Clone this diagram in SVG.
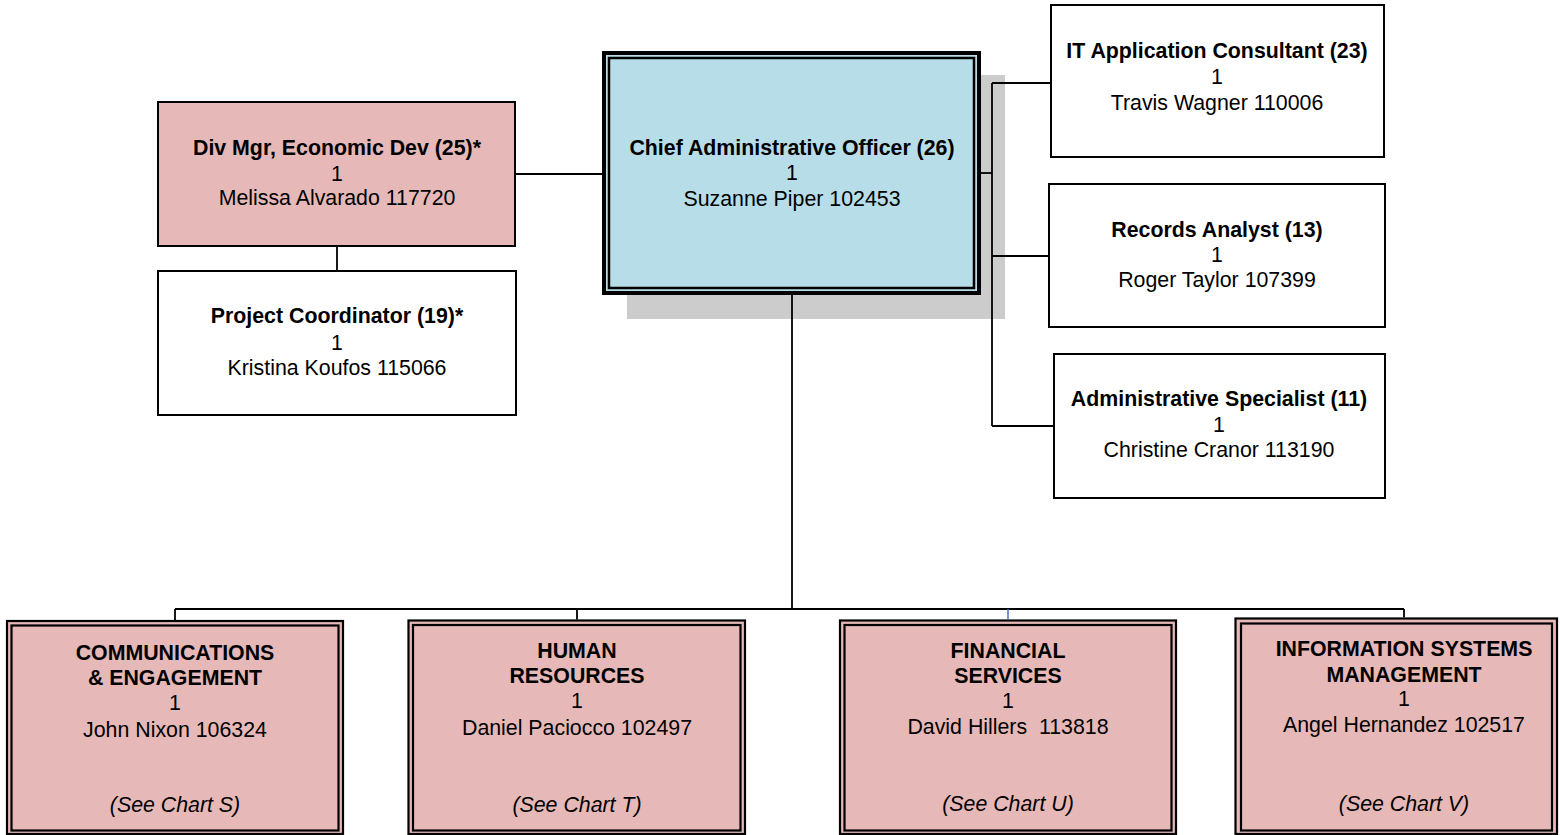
<svg xmlns="http://www.w3.org/2000/svg" width="1560" height="835" viewBox="0 0 1560 835">
<style>
text{font-family:"Liberation Sans",Arial,sans-serif;font-size:21.33px;fill:#000;text-anchor:middle}
.b{font-weight:bold}
.i{font-style:italic}
.box{stroke:#000;stroke-width:2}
.pink{fill:#E6B9B8}
.white{fill:#fff}
.dbl{stroke:#000;stroke-width:2.2}
.inner{fill:none;stroke:#000;stroke-width:2.2}
.con{fill:none;stroke:#000;stroke-width:1.8}
</style>
<rect width="1560" height="835" fill="#fff"/>
<g id="cao">
<rect x="627" y="75" width="378" height="244" fill="#CCCCCC"/>
<rect x="604" y="53" width="375" height="240" fill="#B7DDE8" stroke="#000" stroke-width="4"/>
<rect x="609" y="58" width="365" height="230" fill="none" stroke="#000" stroke-width="2.5"/>
<text x="792" y="155" class="b">Chief Administrative Officer (26)</text>
<text x="792" y="180">1</text>
<text x="792" y="206">Suzanne Piper 102453</text>
</g>
<g id="divmgr">
<rect class="box pink" x="158" y="102" width="357" height="144"/>
<text x="337" y="155" class="b">Div Mgr, Economic Dev (25)*</text>
<text x="337" y="181">1</text>
<text x="337" y="205">Melissa Alvarado 117720</text>
</g>
<g id="projcoord">
<rect class="box white" x="158" y="271" width="358" height="144"/>
<text x="337" y="323" class="b">Project Coordinator (19)*</text>
<text x="337" y="350">1</text>
<text x="337" y="375">Kristina Koufos 115066</text>
</g>
<g id="itapp">
<rect class="box white" x="1051" y="5" width="333" height="152"/>
<text x="1217" y="58" class="b">IT Application Consultant (23)</text>
<text x="1217" y="84">1</text>
<text x="1217" y="110">Travis Wagner 110006</text>
</g>
<g id="records">
<rect class="box white" x="1049" y="184" width="336" height="143"/>
<text x="1217" y="237" class="b">Records Analyst (13)</text>
<text x="1217" y="262">1</text>
<text x="1217" y="287">Roger Taylor 107399</text>
</g>
<g id="adminspec">
<rect class="box white" x="1054" y="354" width="331" height="144"/>
<text x="1219" y="406" class="b">Administrative Specialist (11)</text>
<text x="1219" y="432">1</text>
<text x="1219" y="457">Christine Cranor 113190</text>
</g>
<g id="comm">
<rect class="pink dbl" x="7" y="621" width="336" height="213"/>
<rect class="inner" x="11.5" y="625.5" width="327" height="205"/>
<text x="175" y="660" class="b">COMMUNICATIONS</text>
<text x="175" y="685" class="b">&amp; ENGAGEMENT</text>
<text x="175" y="710">1</text>
<text x="175" y="737">John Nixon 106324</text>
<text x="175" y="812" class="i">(See Chart S)</text>
</g>
<g id="hr">
<rect class="pink dbl" x="408.5" y="620.5" width="336.5" height="213.5"/>
<rect class="inner" x="413" y="625" width="327.5" height="205.5"/>
<text x="577" y="658" class="b">HUMAN</text>
<text x="577" y="683" class="b">RESOURCES</text>
<text x="577" y="708">1</text>
<text x="577" y="735">Daniel Paciocco 102497</text>
<text x="577" y="812" class="i">(See Chart T)</text>
</g>
<g id="fin">
<rect class="pink dbl" x="840" y="620.5" width="336" height="213.5"/>
<rect class="inner" x="844.5" y="625" width="327" height="205.5"/>
<text x="1008" y="658" class="b">FINANCIAL</text>
<text x="1008" y="683" class="b">SERVICES</text>
<text x="1008" y="708">1</text>
<text x="1008" y="734" style="white-space:pre" xml:space="preserve">David Hillers  113818</text>
<text x="1008" y="811" class="i">(See Chart U)</text>
</g>
<g id="ism">
<rect class="pink dbl" x="1235.5" y="618.5" width="321.5" height="215.5"/>
<rect class="inner" x="1241" y="623.5" width="311" height="207"/>
<text x="1404" y="656" class="b">INFORMATION SYSTEMS</text>
<text x="1404" y="682" class="b">MANAGEMENT</text>
<text x="1404" y="706">1</text>
<text x="1404" y="732">Angel Hernandez 102517</text>
<text x="1404" y="811" class="i">(See Chart V)</text>
</g>
<g id="connectors">
<path class="con" d="M515,174 H602"/>
<path class="con" d="M337,247 V270"/>
<path class="con" d="M981,173 H992"/>
<path class="con" d="M992,83 V426"/>
<path class="con" d="M992,83 H1050"/>
<path class="con" d="M992,256 H1048"/>
<path class="con" d="M992,426 H1053"/>
<path class="con" d="M792,295 V609"/>
<path class="con" d="M175,609 H1404"/>
<path class="con" d="M175,609 V620"/>
<path class="con" d="M577,609 V619.5"/>
<path class="con" d="M1404,609 V617.5"/>
<path d="M1008,609 V619.5" fill="none" stroke="#4472C4" stroke-width="1.5"/>
</g>
</svg>
